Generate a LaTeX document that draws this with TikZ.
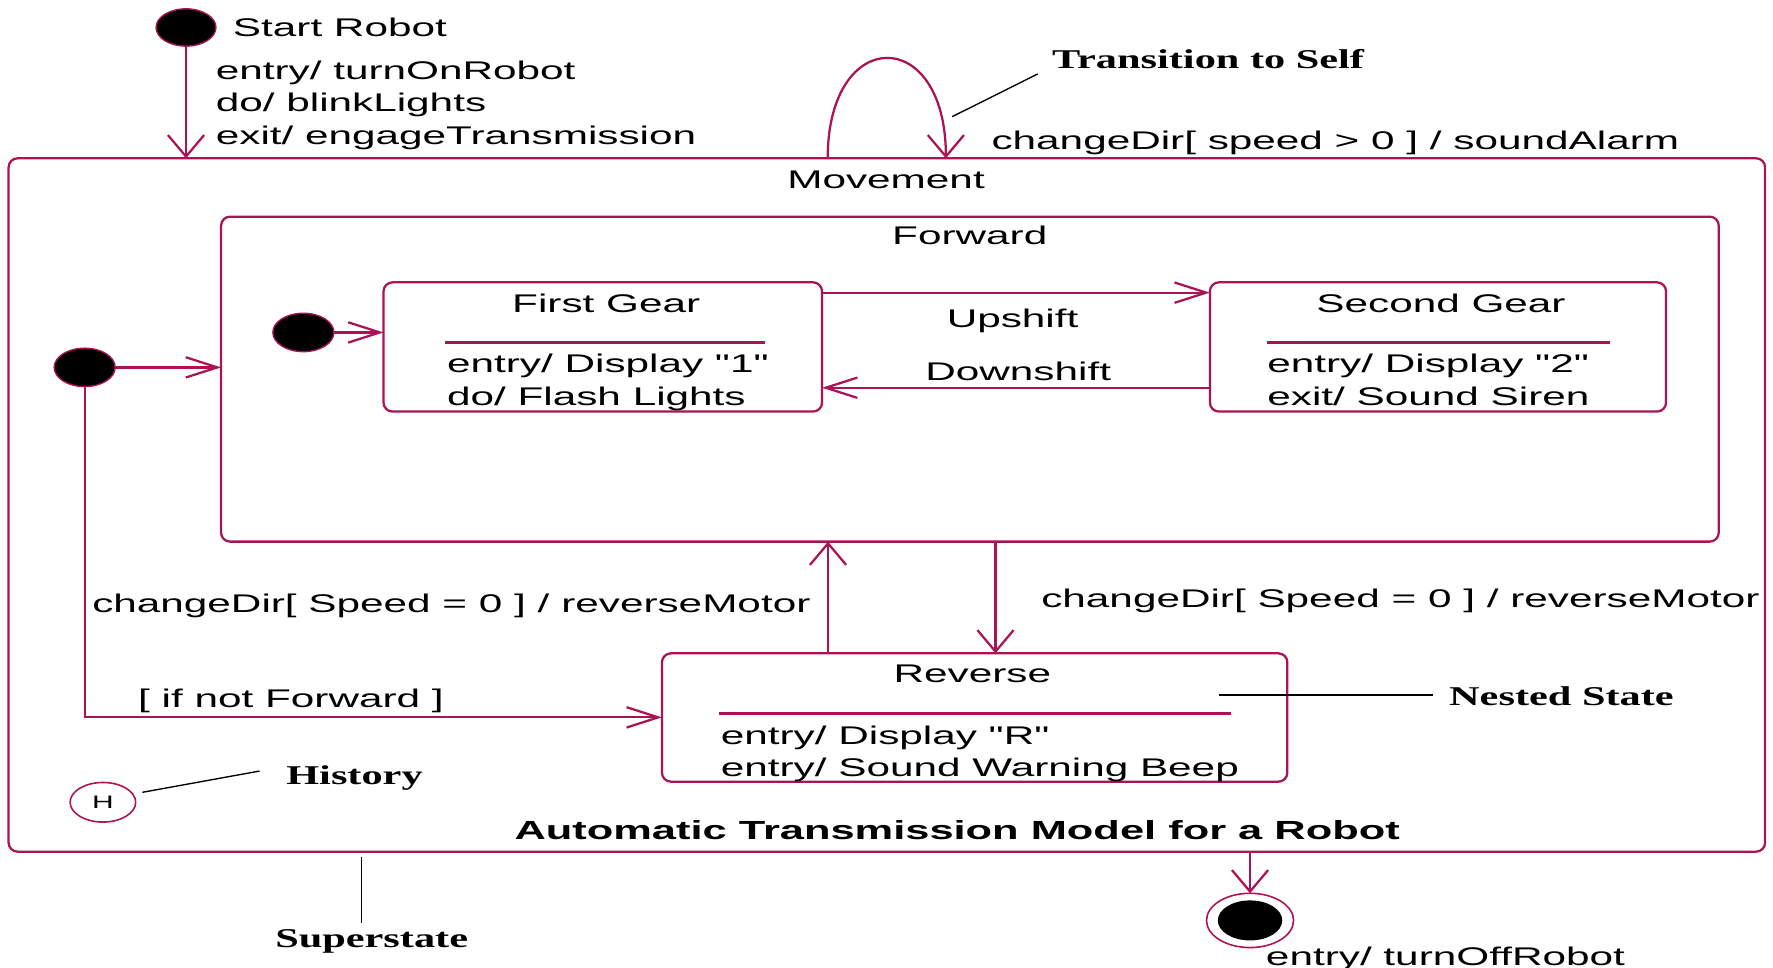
\documentclass[tikz,border=0pt]{standalone}
\usepackage{fontspec}
\setmainfont{Liberation Sans}[FakeStretch=1.655, Ligatures=TeXOff]
\newfontfamily\annfont{Liberation Serif}[FakeStretch=1.56]
\usetikzlibrary{arrows.meta,fit,shapes.geometric}
\definecolor{uml}{RGB}{170,20,85}
\begin{document}
\begin{tikzpicture}[x=0.5pt, y=-0.5pt,
  box/.style={draw=uml, line width=1pt, rounded corners=4pt, inner sep=0pt, outer sep=0pt},
  dot/.style={ellipse, fill=black, draw=uml, line width=0.6pt, minimum width=27pt, minimum height=17pt, inner sep=0pt, outer sep=0pt},
  conn/.style={draw=uml, line width=1pt},
  harrow/.style={conn, -{Straight Barb[length=14pt,width=9pt]}},
  varrow/.style={conn, -{Straight Barb[length=9.5pt,width=16pt]}},
  sepline/.style={draw=uml, line width=1pt},
  note/.style={draw=black, line width=0.6pt},
  lbl/.style={inner sep=0pt, font=\fontsize{11.3}{14}\selectfont, anchor=base west},
  lblc/.style={lbl, anchor=base},
  ann/.style={inner sep=0pt, font=\annfont\bfseries\fontsize{12}{14}\selectfont, anchor=base west},
]
\useasboundingbox (0,0) rectangle (1568,856);

% state boxes
\node[box, fit={(7.6,140) (1561,753.2)}] (mov) {};
\node[box, fit={(195.5,191.6) (1520,479)}] (fwd) {};
\node[box, fit={(339.2,249.7) (727,364)}] (g1) {};
\node[box, fit={(1070,249.7) (1473.4,364)}] (g2) {};
\node[box, fit={(585.4,577.8) (1138.5,691.3)}] (rev) {};

% pseudo states
\node[dot, minimum width=26.5pt, minimum height=16.5pt] (s0) at (164.5,24.3) {};
\node[dot] (i1) at (74.9,324.9) {};
\node[dot] (i2) at (268.3,294) {};
\node[ellipse, draw=uml, line width=0.7pt, minimum width=38.5pt, minimum height=24pt, inner sep=0pt, outer sep=0pt] (fin) at (1105.5,814) {};
\node[ellipse, fill=black, minimum width=28.5pt, minimum height=17.7pt, inner sep=0pt] (finc) at (1105.5,814) {};
\node[ellipse, draw=uml, line width=0.7pt, minimum width=29pt, minimum height=17.5pt, inner sep=0pt, font=\fontsize{8}{9}\selectfont] (hist) at (91,709.5) {H};

% texts
\node[lbl] (tstart) at (205.6,32) {Start Robot};
\node[lbl] (tentry) at (190.5,70) {entry/ turnOnRobot};
\node[lbl] (tdo) at (190.5,98.5) {do/ blinkLights};
\node[lbl] (texit) at (190.5,127.5) {exit/ engageTransmission};
\node[lblc] (tmov) at (783.6,167) {Movement};
\node[ann] (tself) at (930,60.4) {Transition to Self};
\node[lbl] (tsound) at (876.5,132) {changeDir[ speed > 0 ] / soundAlarm};
\node[lblc] (tfwd) at (857.6,215.8) {Forward};

\node[lblc] (tg1) at (536.1,276.3) {First Gear};
\draw[sepline] (393.5,303) -- (676.8,303);
\node[lbl] (tg1a) at (395,329.3) {entry/ Display "1"};
\node[lbl] (tg1b) at (395,358.8) {do/ Flash Lights};

\node[lblc] (tg2) at (1274.4,276.3) {Second Gear};
\draw[sepline] (1120.4,303) -- (1424,303);
\node[lbl] (tg2a) at (1120.4,329.3) {entry/ Display "2"};
\node[lbl] (tg2b) at (1120.4,358.8) {exit/ Sound Siren};

\node[lblc] (tup) at (895.5,289.5) {Upshift};
\node[lblc] (tdown) at (900.5,336.7) {Downshift};

\node[lbl] (trev1) at (81.2,541.6) {changeDir[ Speed = 0 ] / reverseMotor};
\node[lbl] (trev2) at (920.5,537.2) {changeDir[ Speed = 0 ] / reverseMotor};
\node[lbl] (tnot) at (121.8,625.6) {[ if not Forward ]};

\node[lblc] (trev) at (859.9,603.5) {Reverse};
\draw[sepline] (636.1,630.9) -- (1089,630.9);
\node[lbl] (trva) at (637.1,658) {entry/ Display "R"};
\node[lbl] (trvb) at (637.1,686.5) {entry/ Sound Warning Beep};

\node[ann] (tnest) at (1281.2,624) {Nested State};
\node[ann] (thist) at (252.8,693.4) {History};
\node[inner sep=0pt, anchor=base, font=\bfseries\fontsize{11.6}{14}\selectfont] (title) at (846.5,742) {Automatic Transmission Model for a Robot};
\node[ann, anchor=base] (tsuper) at (328.7,838) {Superstate};
\node[lbl] (tend) at (1119.2,854) {entry/ turnOffRobot};

% transitions
\draw[varrow] (s0) -- (s0 |- mov.north);
\draw[varrow] (mov.north -| 732,0) .. controls (732,22) and (836.5,22) .. (mov.north -| 836.5,0);
\draw[harrow] (i1) -- (fwd.west |- i1);
\draw[harrow] (i2) -- (g1.west |- i2);
\draw[harrow] (g1.east |- 0,258.8) -- (g2.west |- 0,258.8);
\draw[harrow] (g2.west |- 0,342.9) -- (g1.east |- 0,342.9);
\draw[varrow] (rev.north -| 732.3,0) -- (fwd.south -| 732.3,0);
\draw[varrow] (fwd.south -| 880.4,0) -- (rev.north -| 880.4,0);
\draw[harrow] (i1) |- (rev.west |- 0,634.4);
\draw[varrow] (mov.south -| fin) -- (fin);

% annotation leaders
\coordinate (selfA) at (842,103.2);
\coordinate (selfB) at (917.8,65.4);
\coordinate (histA) at (125.9,700.7);
\coordinate (histB) at (229.5,681.9);
\coordinate (nestA) at (1078,614.6);
\coordinate (nestB) at (1267.6,614.6);
\coordinate (supA) at (319.9,757.6);
\coordinate (supB) at (319.9,816.6);
\draw[note] (selfA) -- (selfB);
\draw[note] (histA) -- (histB);
\draw[note] (nestA) -- (nestB);
\draw[note] (supA) -- (supB);
\end{tikzpicture}
\end{document}
